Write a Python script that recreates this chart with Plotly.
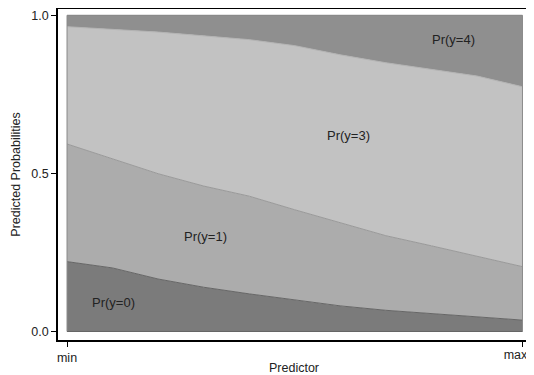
import plotly.graph_objects as go

# Predictor positions (min -> max scaled to 0..1)
x_vals = [0.0, 0.1, 0.2, 0.3, 0.4, 0.5, 0.6, 0.7, 0.8, 0.9, 1.0]

# Predicted probabilities per outcome
pr_y0 = [0.221, 0.201, 0.166, 0.140, 0.119, 0.100, 0.081, 0.067, 0.057, 0.045, 0.036]
pr_y1 = [0.372, 0.344, 0.333, 0.320, 0.309, 0.285, 0.262, 0.236, 0.214, 0.194, 0.169]
pr_y3 = [0.371, 0.411, 0.448, 0.475, 0.495, 0.519, 0.532, 0.547, 0.557, 0.569, 0.569]
pr_y4 = [0.036, 0.044, 0.053, 0.065, 0.077, 0.096, 0.125, 0.150, 0.172, 0.192, 0.226]

series_names = ["Pr(y=0)", "Pr(y=1)", "Pr(y=3)", "Pr(y=4)"]
label_x = [0.103, 0.305, 0.618, 0.848]
label_y = [0.091, 0.302, 0.621, 0.922]

y_tickvals = [0, 0.5, 1]
y_ticktext = ["0.0", "0.5", "1.0"]
x_tickvals = [0, 1]
x_ticktext = ["min", "max"]

fills = ["#7b7b7b", "#acacac", "#c2c2c2", "#8f8f8f"]
lines = ["#666666", "#999999", "#b3b3b3", "#808080"]

FONT = "Liberation Sans, Arial, Helvetica, sans-serif"
X_RANGE = [-0.0198, 1.0165]

fig = go.Figure()
for name, vals, fc, lc in zip(series_names, [pr_y0, pr_y1, pr_y3, pr_y4], fills, lines):
    fig.add_trace(go.Scatter(
        x=x_vals, y=vals, name=name, mode="lines", stackgroup="one",
        fillcolor=fc, line=dict(color=lc, width=1), hoverinfo="skip",
    ))

for name, lx, ly in zip(series_names, label_x, label_y):
    fig.add_annotation(x=lx, y=ly, text=name, showarrow=False,
                       font=dict(family=FONT, size=13, color="#222222"))

# thin outline on the left/right/bottom edges of the area block
fig.add_shape(type="line", x0=0, x1=0, y0=0, y1=1, line=dict(color="#8a8a8a", width=1))
fig.add_shape(type="line", x0=1, x1=1, y0=0, y1=1, line=dict(color="#8a8a8a", width=1))
fig.add_shape(type="line", x0=0, x1=1, y0=0, y1=0, line=dict(color="#666666", width=1))

# page body has an 8px default margin, so the figure is sized to fit the window
fig.update_layout(
    width=526, height=367,
    margin=dict(l=50, r=4, t=1, b=35),
    paper_bgcolor="white", plot_bgcolor="white",
    showlegend=False,
    font=dict(family=FONT, size=12.5, color="#222222"),
    xaxis2=dict(
        overlaying="x", anchor="y", side="bottom", range=X_RANGE,
        tickvals=[x_tickvals[1]], ticktext=[x_ticktext[1]],
        ticks="", showline=False, showgrid=False, zeroline=False,
        automargin=False, ticklabeloverflow="allow", ticklabelshift=-7,
        tickfont=dict(size=12.5), ticklabelstandoff=5,
    ),
)
# invisible carrier trace for the secondary x axis
fig.add_trace(go.Scatter(x=[x_tickvals[1]], y=[0], xaxis="x2", mode="markers",
                         marker=dict(opacity=0), hoverinfo="skip", showlegend=False))

fig.update_xaxes(
    selector=dict(anchor="y", overlaying=None),
    range=X_RANGE, tickvals=x_tickvals, ticktext=[x_ticktext[0], ""],
    ticks="outside", ticklen=5, tickwidth=1, tickcolor="black",
    showline=True, linecolor="black", linewidth=1.5, mirror=True,
    showgrid=False, zeroline=False, automargin=False,
    ticklabeloverflow="allow",
    title=dict(text="Predictor", standoff=6, font=dict(size=12.5)),
    tickfont=dict(size=12.5),
)
fig.update_layout(xaxis=dict(
    range=X_RANGE, tickvals=x_tickvals, ticktext=[x_ticktext[0], ""],
    ticks="outside", ticklen=5, tickwidth=1, tickcolor="black",
    showline=True, linecolor="black", linewidth=1.5, mirror=True,
    showgrid=False, zeroline=False, automargin=False,
    ticklabeloverflow="allow",
    title=dict(text="Predictor", standoff=6, font=dict(size=12.5)),
    tickfont=dict(size=12.5),
))
fig.update_yaxes(
    range=[-0.0269, 1.0199], tickvals=y_tickvals, ticktext=y_ticktext,
    ticks="outside", ticklen=5, tickwidth=1, tickcolor="black",
    showline=True, linecolor="black", linewidth=1.5, mirror=True,
    showgrid=False, zeroline=False, automargin=False,
    title=dict(text="Predicted Probabilities", standoff=8, font=dict(size=12.5)),
    tickfont=dict(size=12.5),
)

fig.write_html("out.html")
